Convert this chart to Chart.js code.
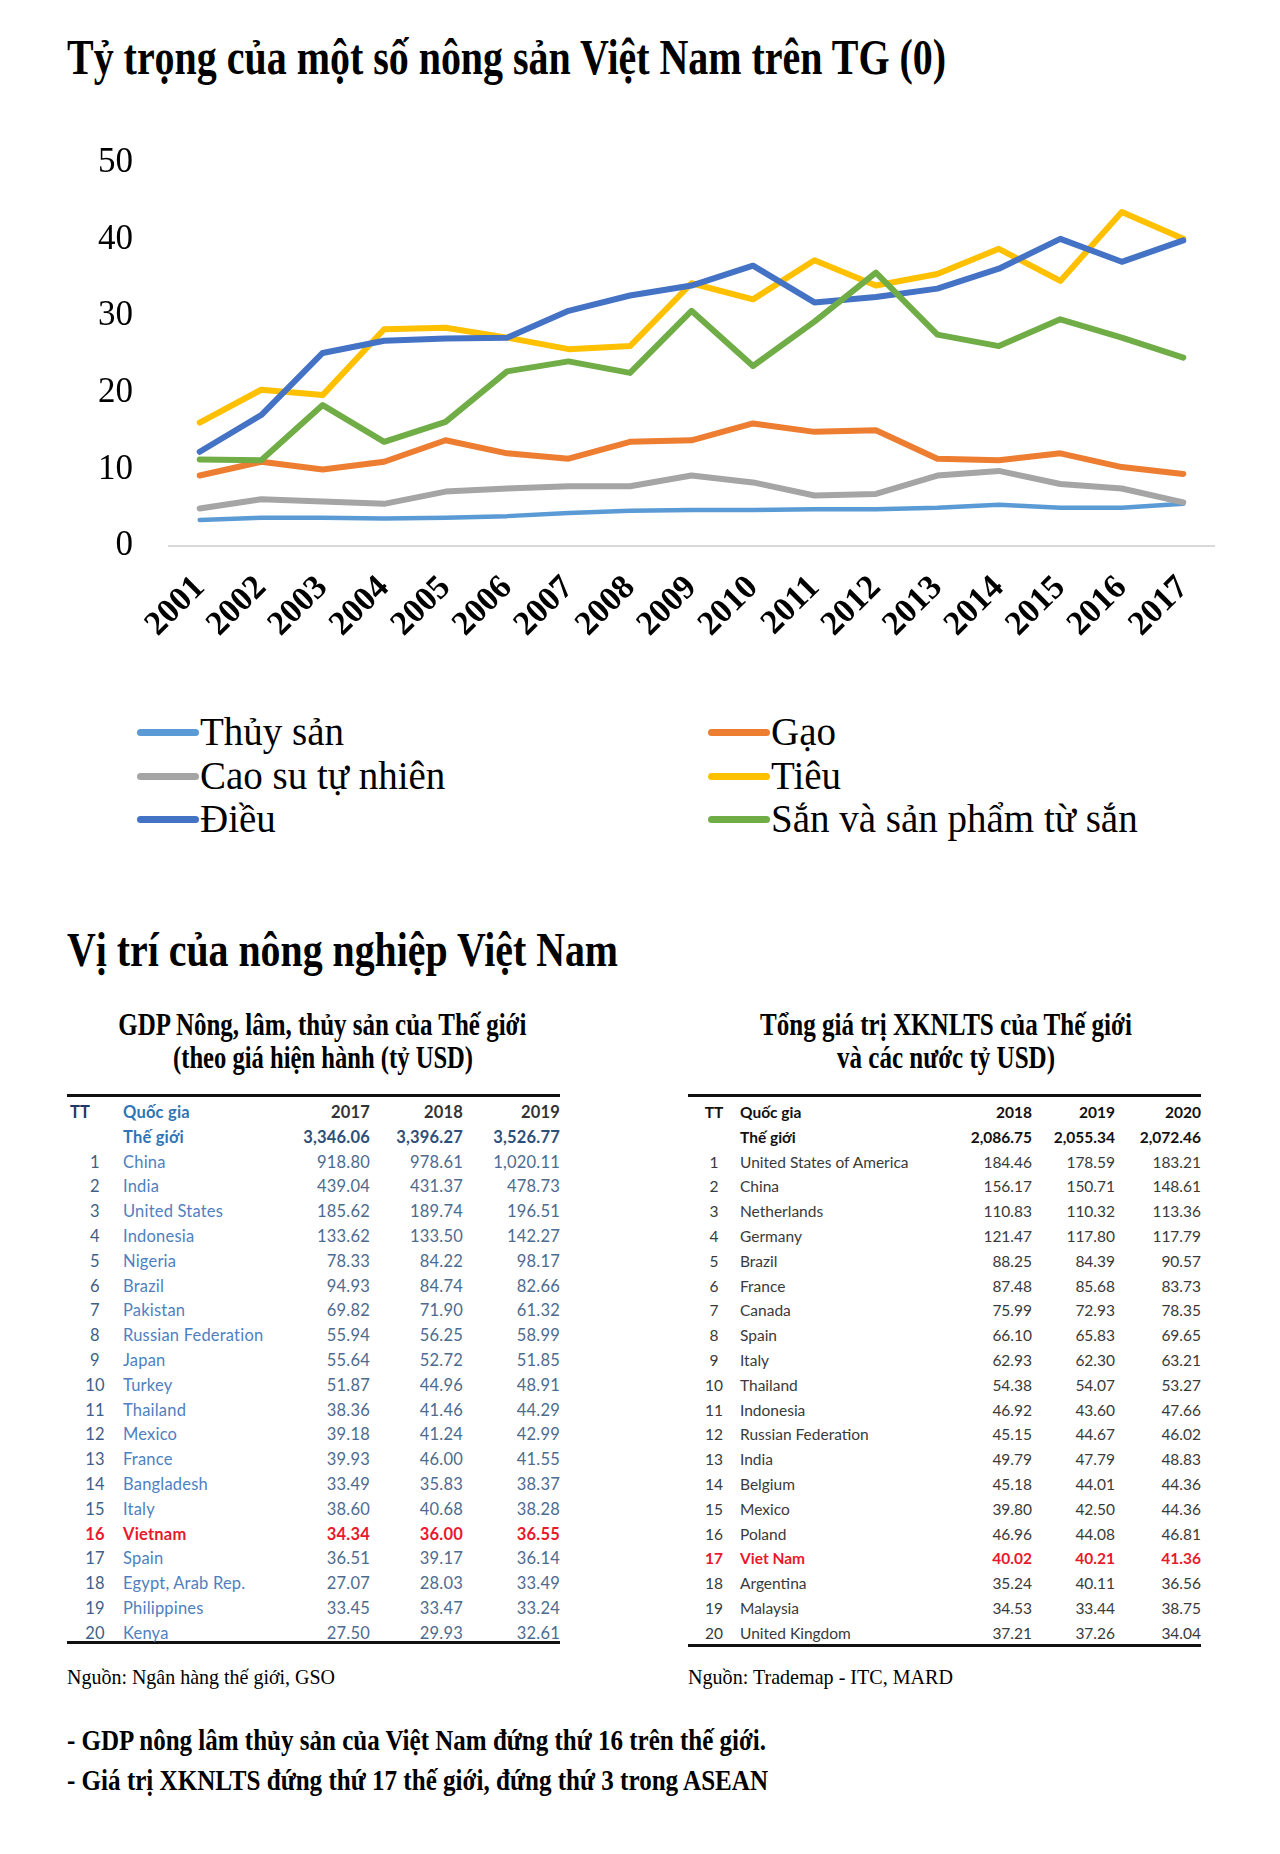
<!DOCTYPE html>
<html lang="vi">
<head>
<meta charset="utf-8">
<title>Tỷ trọng của một số nông sản Việt Nam trên TG</title>
<script src="https://cdn.jsdelivr.net/npm/chart.js@4.4.1/dist/chart.umd.min.js"></script>
<style>
  html, body { margin:0; padding:0; background:#fff; }
  body { width:1280px; height:1854px; position:relative; overflow:hidden; font-family:"Liberation Serif", "Times New Roman", serif; color:#000; }
  .fit { position:absolute; white-space:nowrap; line-height:1; display:inline-block; }
  .b { font-weight:bold; }
  #chartBox { position:absolute; left:0; top:0; width:1280px; height:660px; }
  .lg { position:absolute; font-size:39px; line-height:1; white-space:nowrap; }
  .lg i { position:absolute; height:7px; border-radius:4px; }
  .rule { position:absolute; height:3px; background:#111; }
  table.t { position:absolute; border-collapse:collapse; table-layout:fixed; font-family:Lato, "Open Sans", sans-serif; }
  table.t td { padding:0; height:24.8px; line-height:24.8px; white-space:nowrap; overflow:visible; }
  table.t td.n { text-align:right; }
  table.t td.r { text-align:center; }
  #gdp { font-size:16.5px; color:#4d6b8f; letter-spacing:0.2px; }
  #gdp td.nm { color:#4f7fbf; }
  #gdp td.r { color:#3f5f86; }
  #gdp tr.hd td { font-weight:bold; color:#333; }
  #gdp tr.hd td.nm { color:#2e75b6; }
  #gdp tr.hd td.tt { color:#1f3864; text-align:left; padding-left:3px; }
  #gdp tr.wd td { font-weight:bold; color:#2f4f7a; }
  #gdp tr.wd td.nm { color:#2e75b6; }
  #xk { font-size:15.5px; color:#3a3a3a; }
  #xk tr.hd td, #xk tr.wd td { font-weight:bold; color:#111; }
  #gdp tr.vn td, #xk tr.vn td { color:#e8192c; font-weight:bold; }
</style>
</head>
<body>

<div class="fit b" style="font-size:50px; top:32px;" data-x="67" data-w="879">Tỷ trọng của một số nông sản Việt Nam trên TG (0)</div>

<div id="chartBox"><canvas id="lineChart"></canvas></div>
<div id="legend"></div>

<div class="fit b" style="font-size:48px; top:926px;" data-x="67" data-w="551">Vị trí của nông nghiệp Việt Nam</div>

<div class="fit b" style="font-size:31px; top:1009px;" data-x="322" data-w="408" data-align="center">GDP Nông, lâm, thủy sản của Thế giới</div>
<div class="fit b" style="font-size:31px; top:1042px;" data-x="323" data-w="300" data-align="center">(theo giá hiện hành (tỷ USD)</div>
<div class="fit b" style="font-size:31px; top:1009px;" data-x="946" data-w="372" data-align="center">Tổng giá trị XKNLTS của Thế giới</div>
<div class="fit b" style="font-size:31px; top:1042px;" data-x="946" data-w="218" data-align="center">và các nước tỷ USD)</div>

<div class="rule" style="left:67px; top:1094px; width:493px;"></div>
<div class="rule" style="left:67px; top:1641px; width:493px;"></div>
<div class="rule" style="left:688px; top:1094px; width:513px;"></div>
<div class="rule" style="left:688px; top:1644px; width:513px;"></div>
<table class="t" id="gdp" style="left:67px; top:1100px; width:493px;">
  <colgroup><col style="width:56px"><col style="width:157px"><col style="width:90px"><col style="width:93px"><col style="width:97px"></colgroup>
  <tbody></tbody>
</table>
<table class="t" id="xk" style="left:688px; top:1100px; width:513px;">
  <colgroup><col style="width:52px"><col style="width:200px"><col style="width:92px"><col style="width:83px"><col style="width:86px"></colgroup>
  <tbody></tbody>
</table>

<div class="fit" style="font-size:21px; top:1667px;" data-x="67" data-w="268">Nguồn: Ngân hàng thế giới, GSO</div>
<div class="fit" style="font-size:21px; top:1667px;" data-x="688" data-w="265">Nguồn: Trademap - ITC, MARD</div>

<div class="fit b" style="font-size:29px; top:1726px;" data-x="67" data-w="699">- GDP nông lâm thủy sản của Việt Nam đứng thứ 16 trên thế giới.</div>
<div class="fit b" style="font-size:29px; top:1766px;" data-x="67" data-w="701">- Giá trị XKNLTS đứng thứ 17 thế giới, đứng thứ 3 trong ASEAN</div>

<script>
// Chart data (% share of world)
const years = ['2001','2002','2003','2004','2005','2006','2007','2008','2009','2010','2011','2012','2013','2014','2015','2016','2017'];
const seriesNames = ['Thủy sản','Gạo','Cao su tự nhiên','Tiêu','Điều','Sắn và sản phẩm từ sắn'];
const seriesColors = ['#5b9bd5','#ed7d31','#a5a5a5','#ffc000','#4472c4','#70ad47'];
const thuySan = [3.4,3.7,3.7,3.6,3.7,3.9,4.3,4.6,4.7,4.7,4.8,4.8,5.0,5.4,5.0,5.0,5.5];
const gao     = [9.2,11.0,10.0,11.0,13.8,12.1,11.4,13.6,13.8,16.0,14.9,15.1,11.4,11.2,12.1,10.3,9.4];
const caoSu   = [4.9,6.1,5.8,5.5,7.1,7.5,7.8,7.8,9.2,8.3,6.6,6.8,9.2,9.8,8.1,7.5,5.7];
const tieu    = [16.1,20.4,19.7,28.3,28.5,27.2,25.7,26.1,34.3,32.2,37.3,34.0,35.5,38.8,34.6,43.6,40.1];
const dieu    = [12.3,17.1,25.2,26.8,27.1,27.2,30.7,32.7,34.0,36.6,31.8,32.5,33.6,36.2,40.1,37.1,39.9];
const san     = [11.3,11.2,18.4,13.6,16.2,22.8,24.1,22.6,30.7,23.5,29.3,35.7,27.6,26.1,29.6,27.2,24.6];
const seriesValues = [thuySan, gao, caoSu, tieu, dieu, san];
const yTicks = [0,10,20,30,40,50];

// Table 1: GDP nông lâm thủy sản (tỷ USD)
const gdpYears = ['2017','2018','2019'];
const gdpWorld = [3346.06, 3396.27, 3526.77];
const gdpCountries = ['China','India','United States','Indonesia','Nigeria','Brazil','Pakistan','Russian Federation','Japan','Turkey','Thailand','Mexico','France','Bangladesh','Italy','Vietnam','Spain','Egypt, Arab Rep.','Philippines','Kenya'];
const gdp2017 = [918.80,439.04,185.62,133.62,78.33,94.93,69.82,55.94,55.64,51.87,38.36,39.18,39.93,33.49,38.60,34.34,36.51,27.07,33.45,27.50];
const gdp2018 = [978.61,431.37,189.74,133.50,84.22,84.74,71.90,56.25,52.72,44.96,41.46,41.24,46.00,35.83,40.68,36.00,39.17,28.03,33.47,29.93];
const gdp2019 = [1020.11,478.73,196.51,142.27,98.17,82.66,61.32,58.99,51.85,48.91,44.29,42.99,41.55,38.37,38.28,36.55,36.14,33.49,33.24,32.61];
const gdpVietnamRank = 16;

// Table 2: XK nông lâm thủy sản (tỷ USD)
const xkYears = ['2018','2019','2020'];
const xkWorld = [2086.75, 2055.34, 2072.46];
const xkCountries = ['United States of America','China','Netherlands','Germany','Brazil','France','Canada','Spain','Italy','Thailand','Indonesia','Russian Federation','India','Belgium','Mexico','Poland','Viet Nam','Argentina','Malaysia','United Kingdom'];
const xk2018 = [184.46,156.17,110.83,121.47,88.25,87.48,75.99,66.10,62.93,54.38,46.92,45.15,49.79,45.18,39.80,46.96,40.02,35.24,34.53,37.21];
const xk2019 = [178.59,150.71,110.32,117.80,84.39,85.68,72.93,65.83,62.30,54.07,43.60,44.67,47.79,44.01,42.50,44.08,40.21,40.11,33.44,37.26];
const xk2020 = [183.21,148.61,113.36,117.79,90.57,83.73,78.35,69.65,63.21,53.27,47.66,46.02,48.83,44.36,44.36,46.81,41.36,36.56,38.75,34.04];
const xkVietnamRank = 17;

const serif = '"Liberation Serif", "Times New Roman", serif';

function initChart(){
  const datasets = seriesNames.map((name, i) => ({
    label: name,
    data: seriesValues[i],
    borderColor: seriesColors[i],
    backgroundColor: seriesColors[i],
    borderWidth: i === 0 ? 4.5 : 6,
    pointRadius: 0,
    pointHoverRadius: 0,
    tension: 0,
    fill: false,
    borderCapStyle: 'round',
    borderJoinStyle: 'round',
    order: seriesNames.length - i   // later series drawn on top, like Excel
  }));

  new Chart(document.getElementById('lineChart'), {
    type: 'line',
    data: { labels: years, datasets: datasets },
    options: {
      responsive: true,
      maintainAspectRatio: false,
      animation: false,
      layout: { padding: { left: 0, top: 163, right: 66, bottom: 0 } },
      plugins: { legend: { display: false }, tooltip: { enabled: false } },
      scales: {
        x: {
          offset: true,
          grid: { display: false, drawTicks: false },
          border: { display: true, color: '#d9d9d9', width: 2 },
          ticks: {
            autoSkip: false, minRotation: 45, maxRotation: 45,
            padding: 22, labelOffset: 0, color: '#000',
            font: { family: serif, size: 34, weight: 'bold' }
          },
          afterFit: s => { s.height = 114; }
        },
        y: {
          min: yTicks[0], max: yTicks[yTicks.length - 1],
          afterBuildTicks: s => { s.ticks = yTicks.map(v => ({ value: v })); },
          grid: { display: false, drawTicks: false },
          border: { display: false },
          ticks: { padding: 36, color: '#000', font: { family: serif, size: 35 } },
          afterFit: s => { s.width = 169; }
        }
      }
    }
  });
}

// Legend in two columns, same order as the series
function buildLegend(){
  const box = document.getElementById('legend');
  const colX = [137, 708];
  const rowTop = [712, 756, 799];
  seriesNames.forEach((name, i) => {
    const col = i % 2, row = Math.floor(i / 2);
    const d = document.createElement('div');
    d.className = 'lg';
    d.style.left = (colX[col] + 63) + 'px';
    d.style.top = rowTop[row] + 'px';
    d.textContent = name;
    const ln = document.createElement('i');
    ln.style.background = seriesColors[i];
    ln.style.left = '-63px';
    ln.style.width = '62px';
    ln.style.top = '17px';
    d.appendChild(ln);
    box.appendChild(d);
  });
}

function fmt(v){ return v.toLocaleString('en-US', { minimumFractionDigits: 2, maximumFractionDigits: 2 }); }

function fillTable(id, yearsRow, world, names, cols, hlRank){
  const tbody = document.querySelector('#' + id + ' tbody');
  let html = `<tr class="hd"><td class="tt r">TT</td><td class="nm">Quốc gia</td>${yearsRow.map(y => `<td class="n">${y}</td>`).join('')}</tr>`;
  html += `<tr class="wd"><td class="r"></td><td class="nm">Thế giới</td>${world.map(v => `<td class="n">${fmt(v)}</td>`).join('')}</tr>`;
  names.forEach((n, i) => {
    const cls = (i + 1) === hlRank ? ' class="vn"' : '';
    html += `<tr${cls}><td class="r">${i + 1}</td><td class="nm">${n}</td>${cols.map(c => `<td class="n">${fmt(c[i])}</td>`).join('')}</tr>`;
  });
  tbody.innerHTML = html;
}

// squeeze headings to the narrow width used in the picture
function fitText(){
  document.querySelectorAll('.fit').forEach(el => {
    el.style.transform = 'none';
    const nat = el.getBoundingClientRect().width;
    const s = (+el.dataset.w) / nat;
    if (el.dataset.align === 'center') {
      el.style.left = (+el.dataset.x - nat / 2) + 'px';
      el.style.transformOrigin = '50% 50%';
    } else {
      el.style.left = el.dataset.x + 'px';
      el.style.transformOrigin = '0 50%';
    }
    el.style.transform = 'scaleX(' + s.toFixed(4) + ')';
  });
}

initChart();
buildLegend();
fillTable('gdp', gdpYears, gdpWorld, gdpCountries, [gdp2017, gdp2018, gdp2019], gdpVietnamRank);
fillTable('xk', xkYears, xkWorld, xkCountries, [xk2018, xk2019, xk2020], xkVietnamRank);
fitText();
if (document.fonts && document.fonts.ready) document.fonts.ready.then(fitText);
</script>
</body>
</html>
